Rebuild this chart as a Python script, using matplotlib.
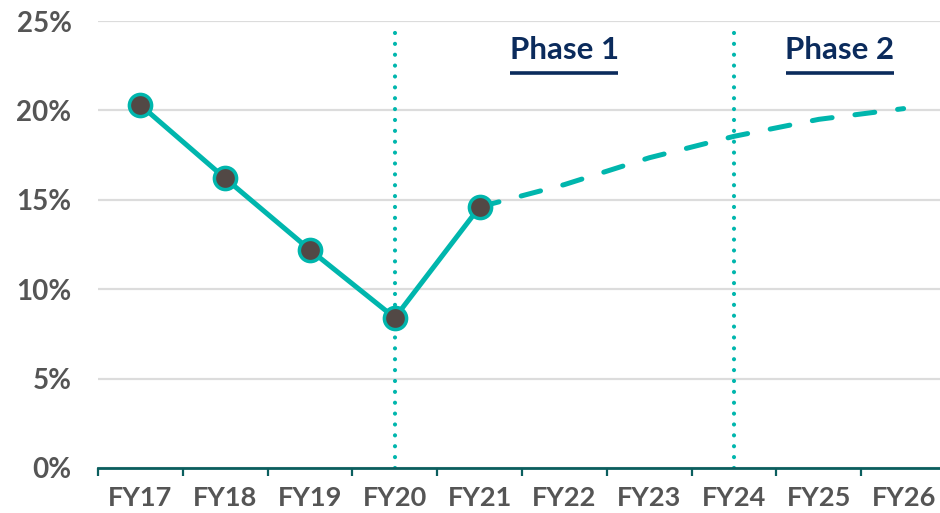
import matplotlib
matplotlib.use('Agg')
import matplotlib.pyplot as plt
from matplotlib.ticker import FixedLocator, NullFormatter, FuncFormatter

years = ['FY17', 'FY18', 'FY19', 'FY20', 'FY21', 'FY22', 'FY23', 'FY24', 'FY25', 'FY26']
actual = [20.3, 16.2, 12.2, 8.4, 14.6]
forecast = [14.6, 15.85, 17.35, 18.55, 19.5, 20.1]
phase_lines = ['FY20', 'FY24']
phases = ['Phase 1', 'Phase 2']
yticks = [0, 5, 10, 15, 20, 25]

teal = '#00B6AD'
dark = '#524845'
axis_col = '#0B5E5E'
navy = '#0B2B5C'
grey = '#555555'

plt.rcParams['font.family'] = ['Lato', 'DejaVu Sans']

fig = plt.figure(figsize=(9.4, 5.13), dpi=100)
ax = fig.add_axes([98 / 940, 45 / 513, 848 / 940, 447 / 513])

x_act = list(range(len(actual)))
x_fc = list(range(len(actual) - 1, len(years)))

ax.plot(x_fc, forecast, color=teal, lw=3.6, ls=(0, (4, 4.6)),
        dash_capstyle='round', zorder=3)
ax.plot(x_act, actual, color=teal, lw=3.6, zorder=4,
        marker='o', ms=16, mfc=dark, mec=teal, mew=2.5)

for name in phase_lines:
    xi = years.index(name)
    ax.plot([xi, xi], [0, 24.5], color=teal, lw=3.0,
            ls=(0, (0.01, 2.6)), dash_capstyle='round', zorder=2)

# phase headings with underline
i20 = years.index(phase_lines[0])
i24 = years.index(phase_lines[1])
centers = [(i20 + i24) / 2, (i24 + len(years) - 0.5) / 2]
fig.canvas.draw()
renderer = fig.canvas.get_renderer()
for label, cx in zip(phases, centers):
    t = ax.text(cx, 22.9, label, ha='center', va='baseline', fontsize=22.5,
                fontweight='bold', color=navy)
    bb = t.get_window_extent(renderer).transformed(ax.transData.inverted())
    ax.plot([bb.x0, bb.x1], [22.1, 22.1], color=navy, lw=2.6,
            solid_capstyle='butt', zorder=5)

ax.set_xlim(-0.5, len(years) - 0.5)
ax.set_ylim(0, 25)

ax.set_yticks(yticks)
ax.yaxis.set_major_formatter(FuncFormatter(lambda v, p: f'{v:.0f}%'))
ax.tick_params(axis='y', length=0, pad=19, labelsize=20, labelcolor=grey)
for lab in ax.get_yticklabels():
    lab.set_fontweight('bold')
ax.grid(axis='y', color='#DCDCDC', lw=1.6)
ax.set_axisbelow(True)

ax.xaxis.set_major_locator(FixedLocator([i - 0.5 for i in range(len(years) + 1)]))
ax.xaxis.set_major_formatter(NullFormatter())
ax.set_xticks(range(len(years)), minor=True)
ax.set_xticklabels(years, minor=True)
ax.tick_params(axis='x', which='major', direction='out', length=6, width=1.6,
               color=axis_col)
ax.tick_params(axis='x', which='minor', length=0, pad=13, labelsize=19.5,
               labelcolor=grey)
for lab in ax.get_xticklabels(minor=True):
    lab.set_fontweight('bold')

for s in ['top', 'right', 'left']:
    ax.spines[s].set_visible(False)
ax.spines['bottom'].set_color(axis_col)
ax.spines['bottom'].set_linewidth(2)

fig.savefig('out.png', dpi=100)
